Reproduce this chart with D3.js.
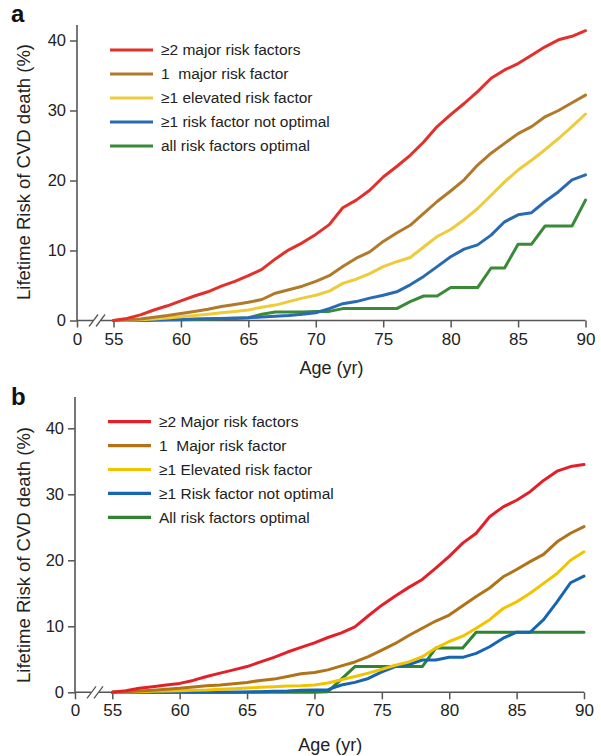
<!DOCTYPE html>
<html>
<head>
<meta charset="utf-8">
<script src="https://cdn.jsdelivr.net/npm/d3@7"></script>
<style>
  html, body { margin: 0; padding: 0; background: #fff; }
  svg { display: block; font-family: "Liberation Sans", Arial, Helvetica, sans-serif; }
</style>
</head>
<body>
<svg id="chart" width="601" height="756"></svg>
<script>
// Age in years (x axis, after the 0–55 break)
const ages = d3.range(55, 91);
const xTickValues = [0, 55, 60, 65, 70, 75, 80, 85, 90];
const yTickValues = [0, 10, 20, 30, 40];

// Panel a: lifetime risk of CVD death (%) by risk-factor burden
const aMajor2     = [0, 0.3, 0.8, 1.5, 2.1, 2.8, 3.5, 4.1, 4.9, 5.6, 6.4, 7.3, 8.8, 10.1, 11.1, 12.3, 13.7, 16.1, 17.2, 18.6, 20.5, 22.0, 23.6, 25.5, 27.7, 29.4, 31.0, 32.7, 34.6, 35.8, 36.7, 37.9, 39.1, 40.1, 40.6, 41.4];
const aMajor1     = [0, 0.1, 0.2, 0.45, 0.7, 1.0, 1.3, 1.6, 2.0, 2.3, 2.6, 3.0, 3.9, 4.4, 4.9, 5.6, 6.4, 7.7, 8.9, 9.8, 11.3, 12.5, 13.6, 15.3, 17.0, 18.5, 20.1, 22.2, 23.9, 25.3, 26.7, 27.7, 29.1, 30.0, 31.1, 32.2];
const aElevated   = [0, 0.05, 0.1, 0.2, 0.35, 0.55, 0.7, 0.9, 1.1, 1.3, 1.5, 1.9, 2.2, 2.7, 3.2, 3.6, 4.2, 5.3, 5.9, 6.7, 7.7, 8.4, 9.0, 10.5, 12.0, 13.0, 14.4, 16.0, 17.9, 19.8, 21.5, 22.9, 24.4, 26.0, 27.7, 29.5];
const aNotOptimal = [0, 0, 0.05, 0.1, 0.1, 0.15, 0.2, 0.25, 0.3, 0.35, 0.4, 0.5, 0.6, 0.7, 0.9, 1.1, 1.7, 2.4, 2.7, 3.2, 3.6, 4.1, 5.1, 6.3, 7.7, 9.1, 10.2, 10.8, 12.2, 14.1, 15.1, 15.4, 17.0, 18.4, 20.1, 20.8];
const aOptimal    = [0, 0, 0, 0.05, 0.1, 0.1, 0.15, 0.2, 0.25, 0.3, 0.4, 0.9, 1.2, 1.2, 1.2, 1.3, 1.3, 1.7, 1.7, 1.7, 1.7, 1.7, 2.7, 3.5, 3.5, 4.7, 4.7, 4.7, 7.5, 7.5, 10.9, 10.9, 13.5, 13.5, 13.5, 17.2];

// Panel b
const bMajor2     = [0, 0.25, 0.6, 0.85, 1.1, 1.35, 1.8, 2.4, 2.9, 3.4, 3.9, 4.6, 5.3, 6.1, 6.8, 7.5, 8.3, 9.0, 9.9, 11.6, 13.2, 14.6, 15.9, 17.1, 18.8, 20.6, 22.6, 24.1, 26.6, 28.1, 29.1, 30.4, 32.1, 33.5, 34.2, 34.5];
const bMajor1     = [0, 0.1, 0.2, 0.3, 0.45, 0.6, 0.8, 1.0, 1.1, 1.3, 1.5, 1.8, 2.0, 2.4, 2.8, 3.0, 3.4, 4.0, 4.6, 5.4, 6.4, 7.4, 8.6, 9.7, 10.8, 11.7, 13.1, 14.5, 15.8, 17.5, 18.6, 19.8, 20.9, 22.8, 24.1, 25.1];
const bElevated   = [0, 0.05, 0.1, 0.15, 0.2, 0.25, 0.3, 0.35, 0.45, 0.55, 0.65, 0.75, 0.85, 0.95, 1.0, 1.1, 1.4, 1.9, 2.4, 2.9, 3.5, 4.1, 4.6, 5.4, 6.7, 7.7, 8.5, 9.7, 11.0, 12.7, 13.7, 15.0, 16.5, 18.0, 20.0, 21.3];
const bNotOptimal = [0, 0, 0, 0, 0, 0, 0, 0, 0, 0, 0.05, 0.1, 0.15, 0.2, 0.3, 0.35, 0.4, 1.1, 1.5, 2.1, 3.1, 3.9, 4.2, 4.9, 4.9, 5.3, 5.3, 5.9, 6.9, 8.2, 9.1, 9.1, 11.0, 13.7, 16.6, 17.6];
const bOptimal    = [0, 0, 0, 0, 0, 0, 0, 0, 0, 0, 0, 0, 0, 0, 0, 0, 0.1, 2.0, 3.9, 3.9, 3.9, 3.9, 3.9, 3.9, 6.7, 6.7, 6.7, 9.1, 9.1, 9.1, 9.1, 9.1, 9.1, 9.1, 9.1, 9.1];

// Legend labels
const legendA = ["\u22652 major risk factors", "1  major risk factor", "\u22651 elevated risk factor", "\u22651 risk factor not optimal", "all risk factors optimal"];
const legendB = ["\u22652 Major risk factors", "1  Major risk factor", "\u22651 Elevated risk factor", "\u22651 Risk factor not optimal", "All risk factors optimal"];

const colorsA = ["#e2302b", "#b07a2a", "#eecb3a", "#2a6ab3", "#3a8a3a"];
const colorsB = ["#e3202a", "#b07318", "#f2c400", "#1565b4", "#2f8431"];

const svg = d3.select("#chart");
const axisColor = "#555";
const textColor = "#222";

const panels = [
  { letter: "a", series: [aMajor2, aMajor1, aElevated, aNotOptimal, aOptimal], labels: legendA, colors: colorsA,
    xr: [77, 113.5, 585.5], yr: [320.5, 40.5], yTop: 25, legX: 110, legY: 50, legStep: 24,
    letterY: 22, xTitleY: 374, yTitleY: 172 },
  { letter: "b", series: [bMajor2, bMajor1, bElevated, bNotOptimal, bOptimal], labels: legendB, colors: colorsB,
    xr: [75, 112.3, 584], yr: [692.3, 428.3], yTop: 397, legX: 108, legY: 421.7, legStep: 23.9,
    letterY: 405, xTitleY: 751, yTitleY: 555 }
];

panels.forEach(p => {
  const g = svg.append("g");
  // piecewise scale: 0 sits on the y axis, then the break, then 55–90
  const x = d3.scaleLinear().domain([0, 55, 90]).range(p.xr);
  const y = d3.scaleLinear().domain([0, 40]).range(p.yr);

  // y axis
  const yAxis = g.append("g")
    .attr("transform", `translate(${p.xr[0]},0)`)
    .call(d3.axisLeft(y).tickValues(yTickValues).tickSize(7).tickPadding(4));
  yAxis.select(".domain").remove();
  yAxis.selectAll(".tick line").attr("stroke", axisColor).attr("stroke-width", 1.5);
  yAxis.selectAll(".tick text").attr("fill", textColor).style("font-size", "16.5px")
    .style("font-family", '"Liberation Sans", Arial, sans-serif');
  g.append("line")
    .attr("x1", p.xr[0]).attr("x2", p.xr[0])
    .attr("y1", p.yTop).attr("y2", p.yr[0])
    .attr("stroke", axisColor).attr("stroke-width", 1.6);

  // x axis
  const xAxis = g.append("g")
    .attr("transform", `translate(0,${p.yr[0]})`)
    .call(d3.axisBottom(x).tickValues(xTickValues).tickSize(7).tickPadding(5));
  xAxis.select(".domain").remove();
  xAxis.selectAll(".tick line").attr("stroke", axisColor).attr("stroke-width", 1.5);
  xAxis.selectAll(".tick text").attr("fill", textColor).style("font-size", "17px")
    .style("font-family", '"Liberation Sans", Arial, sans-serif');
  g.append("line")
    .attr("x1", p.xr[0]).attr("x2", p.xr[2])
    .attr("y1", p.yr[0]).attr("y2", p.yr[0])
    .attr("stroke", axisColor).attr("stroke-width", 1.6);

  // axis break marks
  const bx = p.xr[0] + 17;
  const by = p.yr[0];
  g.append("rect").attr("x", bx - 1).attr("y", by - 2).attr("width", 8).attr("height", 4).attr("fill", "#fff");
  [0, 7].forEach(dx => {
    g.append("line")
      .attr("x1", bx - 5 + dx).attr("y1", by + 6)
      .attr("x2", bx + 4 + dx).attr("y2", by - 6)
      .attr("stroke", axisColor).attr("stroke-width", 1.3);
  });

  // curves
  const line = d3.line().x((d, i) => x(ages[i])).y(d => y(d)).curve(d3.curveLinear);
  const order = [4, 3, 2, 1, 0];
  order.forEach(k => {
    g.append("path")
      .datum(p.series[k])
      .attr("d", line)
      .attr("fill", "none")
      .attr("stroke", p.colors[k])
      .attr("stroke-width", 3)
      .attr("stroke-linejoin", "round")
      .attr("stroke-linecap", "round");
  });

  // legend
  p.labels.forEach((lab, k) => {
    const ly = p.legY + k * p.legStep;
    g.append("line")
      .attr("x1", p.legX).attr("x2", p.legX + 43)
      .attr("y1", ly).attr("y2", ly)
      .attr("stroke", p.colors[k]).attr("stroke-width", 3.2);
    g.append("text")
      .attr("x", p.legX + 51).attr("y", ly)
      .attr("dy", "0.35em")
      .attr("fill", textColor)
      .style("font-size", "15.5px")
      .style("white-space", "pre")
      .text(lab);
  });

  // axis titles
  g.append("text")
    .attr("x", (p.xr[1] + p.xr[2]) / 2 - 18).attr("y", p.xTitleY)
    .attr("text-anchor", "middle")
    .attr("fill", textColor)
    .style("font-size", "18px")
    .text("Age (yr)");
  g.append("text")
    .attr("transform", `translate(30,${p.yTitleY}) rotate(-90)`)
    .attr("text-anchor", "middle")
    .attr("fill", textColor)
    .style("font-size", "18.5px")
    .text("Lifetime Risk of CVD death (%)");

  // panel letter
  g.append("text")
    .attr("x", 11).attr("y", p.letterY)
    .attr("fill", "#111")
    .style("font-size", "24px")
    .style("font-weight", "bold")
    .text(p.letter);
});
</script>
</body>
</html>
